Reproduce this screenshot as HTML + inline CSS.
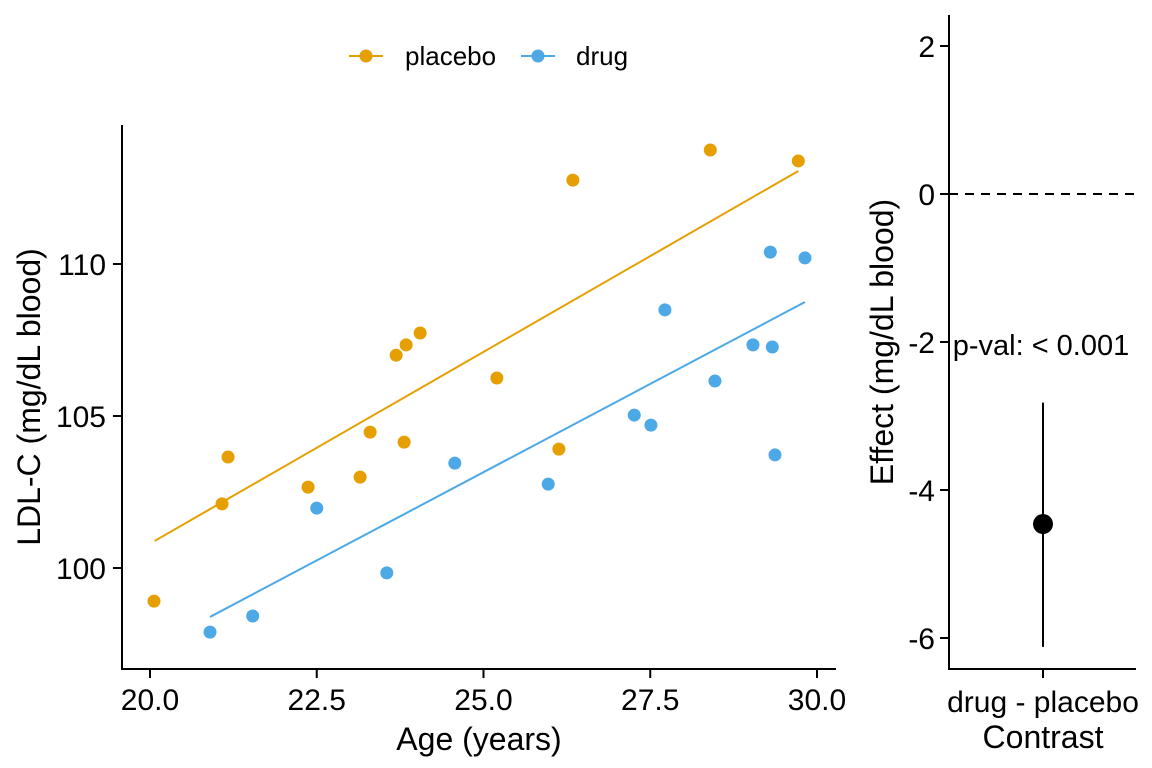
<!DOCTYPE html>
<html><head><meta charset="utf-8"><style>
html,body{margin:0;padding:0;background:#fff}
svg{display:block;font-family:"Liberation Sans",sans-serif}
</style></head><body>
<svg id="c" width="1152" height="768" xmlns="http://www.w3.org/2000/svg"></svg>
<script>
const placeboX=[20.06,21.08,21.17,22.37,23.15,23.30,23.69,23.81,23.84,24.05,25.20,26.13,26.34,28.40,29.72];
const placeboY=[98.91,102.11,103.65,102.66,102.99,104.47,107.0,104.14,107.34,107.73,106.25,103.91,112.76,113.75,113.39];
const drugX=[20.90,21.54,22.50,23.55,24.57,25.97,27.26,27.51,27.72,28.47,29.04,29.30,29.33,29.37,29.82];
const drugY=[97.89,98.42,101.97,99.84,103.45,102.76,105.03,104.70,108.49,106.15,107.34,110.39,107.27,103.72,110.2];
const placeboFitX=[20.07,29.72];const placeboFitY=[100.89,113.06];
const drugFitX=[20.90,29.82];const drugFitY=[98.39,108.75];
const xTicks=[20.0,22.5,25.0,27.5,30.0];
const yTicks=[100,105,110];
const effTicks=[2,0,-2,-4,-6];
const effect=[-4.46];const effLow=[-6.12];const effHigh=[-2.82];
const contrastLabels=["drug - placebo"];

const NS="http://www.w3.org/2000/svg";const svg=document.getElementById('c');
function el(t,a,p){const e=document.createElementNS(NS,t);for(const k in a)e.setAttribute(k,a[k]);(p||svg).appendChild(e);return e;}
const sx=v=>150+(v-20)*66.7, sy=v=>568-(v-100)*30.4, ey=v=>194-v*74;
const C1="#E69F00",C2="#4DA8E6";
let e;
e=el('line',{x1:122,y1:125,x2:122,y2:669,stroke:'#000','stroke-width':2});
e=el('line',{x1:121,y1:669,x2:836,y2:669,stroke:'#000','stroke-width':2});
xTicks.forEach(t=>{el('line',{x1:sx(t),x2:sx(t),y1:669,y2:678,stroke:'#000','stroke-width':2});
 e=el('text',{x:sx(t),y:710,'font-size':30,'text-anchor':'middle'});e.textContent=t.toFixed(1);});
yTicks.forEach(t=>{el('line',{x1:113,x2:122,y1:sy(t),y2:sy(t),stroke:'#000','stroke-width':2});
 e=el('text',{x:106,y:sy(t)+11,'font-size':30,'text-anchor':'end'});e.textContent=t;});
e=el('text',{x:479,y:750,'font-size':32,'text-anchor':'middle'});e.textContent='Age (years)';
e=el('text',{x:0,y:0,'font-size':32,'text-anchor':'middle',transform:'translate(40,397) rotate(-90)'});e.textContent='LDL-C (mg/dL blood)';
e=el('line',{x1:sx(placeboFitX[0]),y1:sy(placeboFitY[0]),x2:sx(placeboFitX[1]),y2:sy(placeboFitY[1]),stroke:C1,'stroke-width':2});
e=el('line',{x1:sx(drugFitX[0]),y1:sy(drugFitY[0]),x2:sx(drugFitX[1]),y2:sy(drugFitY[1]),stroke:C2,'stroke-width':2});
placeboX.forEach((x,i)=>{e=el('circle',{cx:sx(x),cy:sy(placeboY[i]),r:6.5,fill:C1});});
drugX.forEach((x,i)=>{e=el('circle',{cx:sx(x),cy:sy(drugY[i]),r:6.5,fill:C2});});
const lg=el('g',{});
el('line',{x1:349,x2:383,y1:56,y2:56,stroke:C1,'stroke-width':2},lg);el('circle',{cx:366,cy:56,r:6.5,fill:C1},lg);
e=el('text',{x:405,y:65,'font-size':26},lg);e.textContent='placebo';
el('line',{x1:521,x2:555,y1:56,y2:56,stroke:C2,'stroke-width':2},lg);el('circle',{cx:538,cy:56,r:6.5,fill:C2},lg);
e=el('text',{x:576,y:65,'font-size':26},lg);e.textContent='drug';
e=el('line',{x1:949,y1:15,x2:949,y2:669,stroke:'#000','stroke-width':2});
e=el('line',{x1:948,y1:669,x2:1136,y2:669,stroke:'#000','stroke-width':2});
effTicks.forEach(t=>{el('line',{x1:940,x2:949,y1:ey(t),y2:ey(t),stroke:'#000','stroke-width':2});
 e=el('text',{x:935,y:ey(t)+11,'font-size':30,'text-anchor':'end'});e.textContent=t;});
e=el('line',{x1:949,x2:1136,y1:ey(0),y2:ey(0),stroke:'#000','stroke-width':2,'stroke-dasharray':'9,7'});
el('line',{x1:1043,x2:1043,y1:669,y2:678,stroke:'#000','stroke-width':2});
e=el('text',{x:1043,y:712,'font-size':30,'text-anchor':'middle'});e.textContent=contrastLabels[0];
e=el('text',{x:1043,y:748,'font-size':32,'text-anchor':'middle'});e.textContent='Contrast';
e=el('text',{x:0,y:0,'font-size':32,'text-anchor':'middle',transform:'translate(893,342) rotate(-90)'});e.textContent='Effect (mg/dL blood)';
e=el('line',{x1:1043,x2:1043,y1:ey(effHigh[0]),y2:ey(effLow[0]),stroke:'#000','stroke-width':2});
e=el('circle',{cx:1043,cy:ey(effect[0]),r:10,fill:'#000'});
e=el('text',{x:1041,y:355,'font-size':29,'text-anchor':'middle'});e.textContent='p-val: < 0.001';
</script>
</body></html>
